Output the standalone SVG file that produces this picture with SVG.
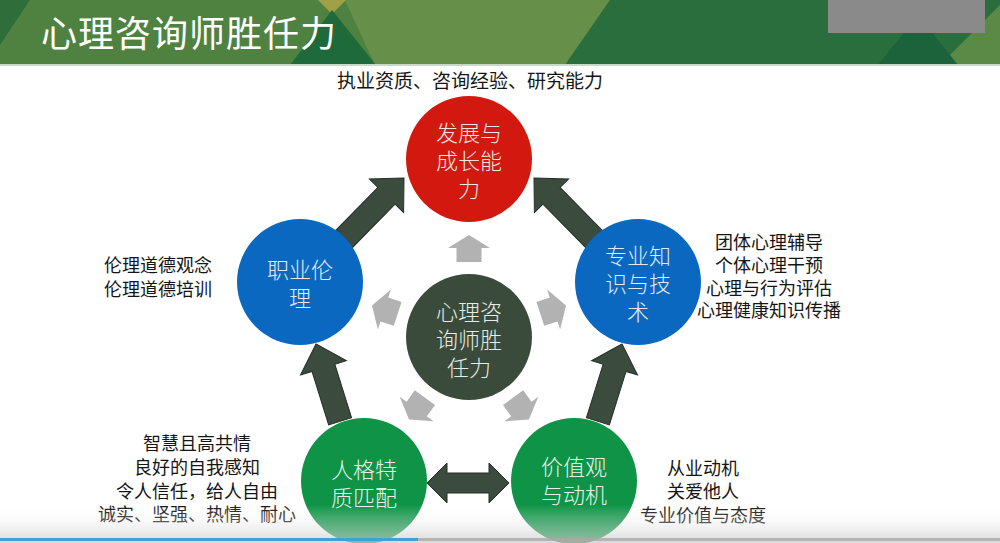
<svg xmlns="http://www.w3.org/2000/svg" width="1000" height="543" viewBox="0 0 1000 543">
<defs>
<style>
.t{font-family:"Noto Sans CJK SC","Noto Sans",sans-serif;text-anchor:middle;dominant-baseline:central}
.side{font-size:18px;fill:#151515}
.in{font-size:22px;font-weight:300}
.dark{fill:#3b4b3d;stroke:#26302a;stroke-width:1}
.grey{fill:#b2b2b2}
</style>
<linearGradient id="bot" x1="0" y1="0" x2="0" y2="1">
<stop offset="0" stop-color="#ffffff" stop-opacity="0"/>
<stop offset="1" stop-color="#c8c8c8" stop-opacity="0.7"/>
</linearGradient>
<path id="ga" d="M-14,-12.5 L0,-12.5 L0,-21 L13,0 L0,21 L0,12.5 L-14,12.5 Z"/>
</defs>
<rect width="1000" height="543" fill="#ffffff"/>
<g id="header">
<rect x="0" y="0" width="1000" height="65" fill="#4f8240"/>
<polygon points="0,0 30,0 0,45" fill="#2f6d3a"/>
<polygon points="345,0 610,0 565,65 375,65" fill="#66904a"/>
<polygon points="318,0 346,0 332,14" fill="#a0a048"/>
<polygon points="290,65 332,10 376,65" fill="#1f6a3a"/>
<polygon points="610,0 1000,0 1000,65 565,65" fill="#2a6e3e"/>
<polygon points="940,65 1000,5 1000,65" fill="#5a8a45"/>
<polygon points="878,65 918,15 958,65" fill="#1c623a"/>
<rect x="828" y="0" width="157" height="33" fill="#8a8a8a"/>
<rect x="0" y="64" width="1000" height="2" fill="#c9d9c9"/>
<text class="t" x="189" y="31" font-size="36" fill="#ffffff" letter-spacing="1">心理咨询师胜任力</text>
</g>
<g id="connectors">
<path class="dark" transform="translate(404,178) rotate(-45.5)" d="M-87,-12 L-25,-12 L-25,-24 L0,0 L-25,24 L-25,12 L-87,12 Z"/>
<path class="dark" transform="translate(534,178) rotate(-134.5)" d="M-87,-12 L-25,-12 L-25,-24 L0,0 L-25,24 L-25,12 L-87,12 Z"/>
<path class="dark" transform="translate(316,344) rotate(-107.3)" d="M-81,-12 L-25,-12 L-25,-24 L0,0 L-25,24 L-25,12 L-81,12 Z"/>
<path class="dark" transform="translate(622,344) rotate(-72.7)" d="M-81,-12 L-25,-12 L-25,-24 L0,0 L-25,24 L-25,12 L-81,12 Z"/>
<path class="dark" d="M427,483 L447,463 L447,473 L489,473 L489,463 L509,483 L489,503 L489,493 L447,493 L447,503 Z"/>
<use href="#ga" class="grey" transform="translate(469,337) rotate(-90) translate(89,0)"/>
<use href="#ga" class="grey" transform="translate(469,337) rotate(-18) translate(89,0)"/>
<use href="#ga" class="grey" transform="translate(469,337) rotate(54) translate(89,0)"/>
<use href="#ga" class="grey" transform="translate(469,337) rotate(126) translate(89,0)"/>
<use href="#ga" class="grey" transform="translate(469,337) rotate(198) translate(89,0)"/>
</g>
<g id="center">
<circle cx="469" cy="337" r="63" fill="#3a4b3b"/>
<text class="t in" x="469" fill="#e6ece6"><tspan x="469" y="310">心理咨</tspan><tspan x="469" y="338">询师胜</tspan><tspan x="469" y="366">任力</tspan></text>
</g>
<g id="growth">
<circle cx="469" cy="159" r="63" fill="#d3190f"/>
<text class="t in" fill="#fbe6e4"><tspan x="469" y="131">发展与</tspan><tspan x="469" y="159">成长能</tspan><tspan x="469" y="187">力</tspan></text>
<text class="t" x="470" y="79" font-size="19" fill="#151515">执业资质、咨询经验、研究能力</text>
</g>
<g id="knowledge">
<circle cx="638" cy="282" r="63" fill="#0b68c1"/>
<text class="t in" fill="#e2ecf8"><tspan x="638" y="254">专业知</tspan><tspan x="638" y="282">识与技</tspan><tspan x="638" y="310">术</tspan></text>
<text class="t side"><tspan x="769" y="241">团体心理辅导</tspan><tspan x="769" y="264">个体心理干预</tspan><tspan x="769" y="287">心理与行为评估</tspan><tspan x="769" y="309">心理健康知识传播</tspan></text>
</g>
<g id="values">
<circle cx="574" cy="481" r="63" fill="#0f9447"/>
<text class="t in" fill="#e4f3ea"><tspan x="574" y="465">价值观</tspan><tspan x="574" y="493">与动机</tspan></text>
<text class="t side"><tspan x="703" y="467">从业动机</tspan><tspan x="703" y="490">关爱他人</tspan><tspan x="703" y="514">专业价值与态度</tspan></text>
</g>
<g id="personality">
<circle cx="364" cy="481" r="63" fill="#0f9447"/>
<text class="t in" fill="#e4f3ea"><tspan x="364" y="468">人格特</tspan><tspan x="364" y="496">质匹配</tspan></text>
<text class="t side"><tspan x="197" y="442">智慧且高共情</tspan><tspan x="197" y="466">良好的自我感知</tspan><tspan x="197" y="490">令人信任，给人自由</tspan><tspan x="197" y="513">诚实、坚强、热情、耐心</tspan></text>
</g>
<g id="ethics">
<circle cx="300" cy="282" r="63" fill="#0b68c1"/>
<text class="t in" fill="#e2ecf8"><tspan x="300" y="268">职业伦</tspan><tspan x="300" y="296">理</tspan></text>
<text class="t side"><tspan x="158" y="264">伦理道德观念</tspan><tspan x="158" y="288">伦理道德培训</tspan></text>
</g>
<g id="player">
<rect x="0" y="505" width="1000" height="38" fill="url(#bot)"/>
<rect x="418" y="538" width="582" height="3" fill="#a9a9a9" opacity="0.8"/>
<rect x="0" y="538" width="418" height="3" fill="#3aa3dc"/>
</g>
</svg>
